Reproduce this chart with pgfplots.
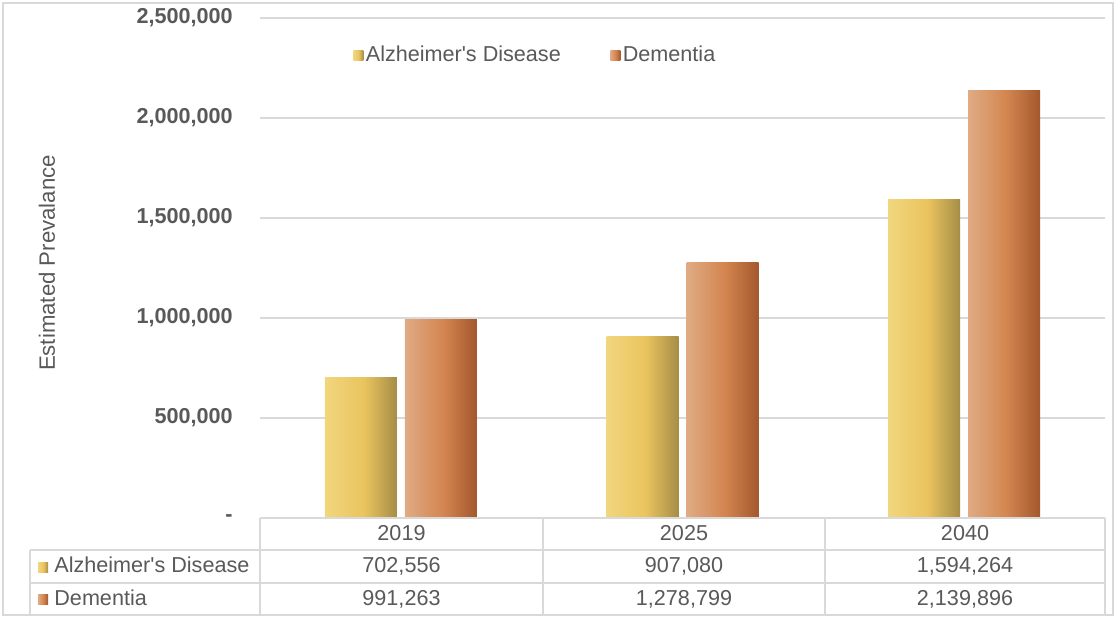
\documentclass[border=0pt]{standalone}
\usepackage{pgfplots}
\pgfplotsset{compat=1.18}
\usepackage{pgfplotstable}
\usepackage{fontspec}
\setmainfont{Liberation Sans}

\definecolor{txt}{HTML}{595959}
\definecolor{gridc}{HTML}{D9D9D9}
\definecolor{yelA}{HTML}{F1D67E}
\definecolor{yelB}{HTML}{EAC45E}
\definecolor{yelC}{HTML}{A68D47}
\definecolor{orA}{HTML}{E0AB84}
\definecolor{orB}{HTML}{D3854F}
\definecolor{orC}{HTML}{A3582D}

% horizontal gradients of the bars (box spans 25bp..75bp)
\pgfdeclarehorizontalshading{alz}{100bp}{color(0bp)=(yelA); color(25bp)=(yelA); color(52bp)=(yelB); color(75bp)=(yelC); color(100bp)=(yelC)}
\pgfdeclarehorizontalshading{dem}{100bp}{color(0bp)=(orA); color(25bp)=(orA); color(52bp)=(orB); color(75bp)=(orC); color(100bp)=(orC)}

\pgfplotstableread{
x alz dem
0 702556 991263
1 907080 1278799
2 1594264 2139896
}\prev

\newcommand{\chartfont}{\fontsize{10.8}{13}\selectfont}
\newcommand{\ap}{\textquotesingle}

\begin{document}
\begin{tikzpicture}
\useasboundingbox (0,0) rectangle (558.5pt,309pt);

\begin{axis}[
    at={(130pt,50pt)}, anchor=south west,
    width=422.5pt, height=250pt, scale only axis,
    xmin=-0.5, xmax=2.5,
    ymin=0, ymax=2500000,
    ybar, bar width=36pt,
    xtick=\empty,
    ytick={0,500000,1000000,1500000,2000000,2500000},
    yticklabels={{\raisebox{-1.5pt}{\textbf{-}}\hspace{10.5pt}},{\textbf{500,000}},{\textbf{1,000,000}},{\textbf{1,500,000}},{\textbf{2,000,000}},{\textbf{2,500,000}}},
    scaled y ticks=false,
    ymajorgrids,
    grid style={gridc, line width=0.75pt},
    axis line style={draw=none},
    major tick length=0pt,
    yticklabel style={font=\chartfont, text=txt, inner sep=0pt, xshift=-13.5pt},
    ylabel={Estimated Prevalance},
    ylabel style={at={(axis description cs:-0.2521,0.51)}, anchor=center, font=\fontsize{11.1}{13}\selectfont, text=txt},
    clip=false,
    legend columns=2,
    legend style={at={(0.110,0.926)}, anchor=west, draw=none, fill=none,
        inner sep=0pt, font=\chartfont, text=txt,
        nodes={inner sep=1.25pt},
        /tikz/every even column/.append style={column sep=23.5pt}},
    alzbar/.style={draw=none, shade, shading=alz, bar shift=-20pt,
        legend image code/.code={\shade[shading=alz] (0pt,-2.5pt) rectangle (5pt,2.5pt);}},
    dembar/.style={draw=none, shade, shading=dem, bar shift=20pt,
        legend image code/.code={\shade[shading=dem] (0pt,-2.5pt) rectangle (5pt,2.5pt);}},
]
% one plot per bar, so that every bar gets its own gradient
\addplot[alzbar, skip coords between index={1}{3}] table[x=x, y=alz] {\prev};
\addlegendentry{Alzheimer\ap s Disease}
\addplot[dembar, skip coords between index={1}{3}] table[x=x, y=dem] {\prev};
\addlegendentry{Dementia}
\addplot[alzbar, forget plot, skip coords between index={0}{1}, skip coords between index={2}{3}] table[x=x, y=alz] {\prev};
\addplot[dembar, forget plot, skip coords between index={0}{1}, skip coords between index={2}{3}] table[x=x, y=dem] {\prev};
\addplot[alzbar, forget plot, skip coords between index={0}{2}] table[x=x, y=alz] {\prev};
\addplot[dembar, forget plot, skip coords between index={0}{2}] table[x=x, y=dem] {\prev};
\end{axis}

% data table under the plot (pixel units, y downwards)
\begin{scope}[x=0.5pt, y=-0.5pt, yshift=309pt,
    every node/.style={font=\chartfont, text=txt, text height=1.5ex, text depth=0.3ex, inner sep=0pt}]
  \draw[gridc, line width=0.6pt] (3,3) rectangle (1113,615);
  \draw[gridc, line width=0.75pt]
    (260,518) -- (1105,518)
    (30,550) -- (1105,550)
    (30,583) -- (1105,583)
    (30,615) -- (1105,615)
    (30,550) -- (30,615)
    (260,518) -- (260,615)
    (543,518) -- (543,615)
    (825,518) -- (825,615)
    (1105,518) -- (1105,615);
  \node at (401.5,534) {2019};
  \node at (684,534) {2025};
  \node at (965,534) {2040};
  \shade[shading=alz] (38,562) rectangle (48,572);
  \node[anchor=west] at (54,566.5) {Alzheimer\ap s Disease};
  \shade[shading=dem] (38,594.5) rectangle (48,604.5);
  \node[anchor=west] at (54,599) {Dementia};
  \node at (401.5,566.5) {702,556};
  \node at (684,566.5) {907,080};
  \node at (965,566.5) {1,594,264};
  \node at (401.5,599) {991,263};
  \node at (684,599) {1,278,799};
  \node at (965,599) {2,139,896};
\end{scope}
\end{tikzpicture}
\end{document}
